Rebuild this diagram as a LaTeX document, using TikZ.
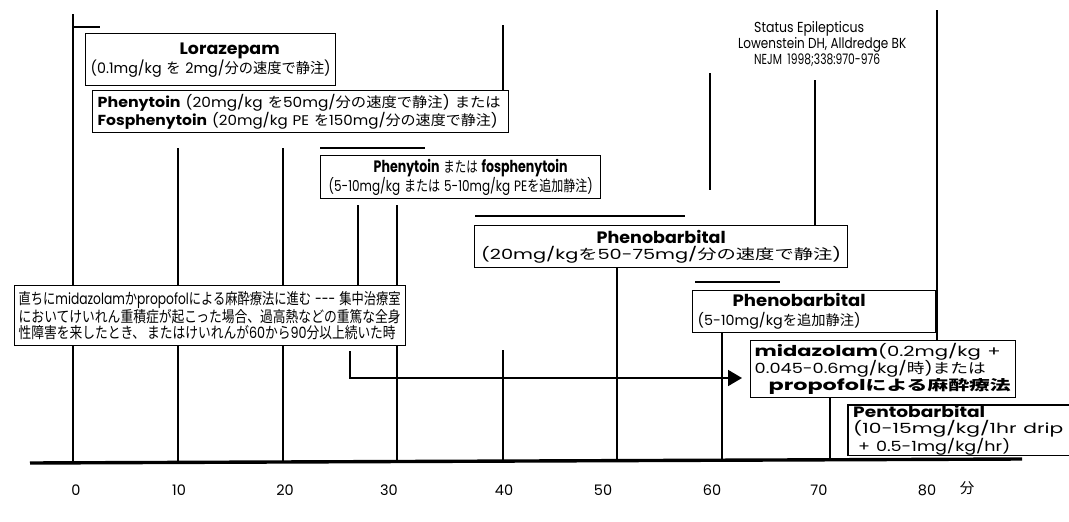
\documentclass[tikz,border=0pt]{standalone}
\usepackage{fontspec}
\usepackage{graphicx}
\setmainfont{Poppins}
\newfontfamily\jp{Noto Sans CJK JP}
\newcommand\J[1]{{\jp #1}}
\newcommand\fw[2]{\resizebox{#1pt}{\height}{#2}}
\newcommand\ttltxt{\fontsize{16.5}{17}\selectfont\bfseries}
\newcommand\phytxt{\fontsize{14.5}{16}\selectfont\bfseries}
\newcommand\midb{\fontsize{15}{16}\selectfont\bfseries}
\usetikzlibrary{arrows.meta}
\begin{document}
\begin{tikzpicture}[x=1pt,y=-1pt,
  tl/.style={line width=1.2pt},
  bar/.style={line width=2.6pt},
  boxline/.style={line width=1.4pt},
  box/.style={draw,boxline,fill=white,inner ysep=0pt,anchor=north west},
  lab/.style={font=\fontsize{14.5}{16}\selectfont,anchor=center}]
\useasboundingbox (0,0) rectangle (1069,522);
% time lines
\draw[tl] (73,14) -- (73,463);
\draw[tl] (73,27) -- (100,27);
\draw[tl] (178,148) -- (178,462);
\draw[tl] (283,148) -- (283,462);
\draw[line width=2.4pt] (358,205) -- (358,285);
\draw[tl] (397,205) -- (397,462);
\draw[tl] (503,25) -- (503,90);
\draw[tl] (503,350) -- (503,461);
\draw[tl] (617,267) -- (617,460);
\draw[tl] (710,73) -- (710,190);
\draw[tl] (722,332) -- (722,460);
\draw[tl] (815,80) -- (815,225);
\draw[tl] (830,397) -- (830,460);
\draw[tl] (937,10) -- (937,340);
% bars
\draw[bar] (320,148) -- (425,148);
\draw[bar] (475,216) -- (685,216);
\draw[bar] (695,282) -- (780,282);
% axis
\draw[line width=3.4pt] (30,463) -- (1022,459);
\foreach \x/\t in {76/0,179/10,285/20,389/30,504/40,603/50,712/60,819/70,927/80}
  \node[lab] (t\t) at (\x,490) {\t};
\node[lab] (tmin) at (967,488) {\J{分}};
% citation
\node[anchor=north west,align=left,inner sep=0pt,font=\fontsize{14.5}{16}\selectfont] (cite) at (738,21)
  {\hspace*{16pt}\fw{110}{Status Epilepticus}\\\fw{168}{Lowenstein DH, Alldredge BK}\\\hspace*{16pt}\fw{126}{NEJM\enspace 1998;338:970-976}};
% boxes
\node[box,minimum width=250,minimum height=52,inner xsep=0pt,text width=250,align=center,font=\fontsize{14.5}{19}\selectfont] (lor) at (85,33)
  {\hspace*{38pt}\fw{100}{\ttltxt Lorazepam}\\\fw{240}{(0.1mg/kg \J{を} 2mg/\J{分の速度で静注})}};
\node[box,minimum width=416,minimum height=42,inner xsep=5pt,text width=406,align=left,font=\fontsize{14}{18}\selectfont] (phy) at (92,90)
  {\fw{403}{{\phytxt Phenytoin} (20mg/kg \J{を}50mg/\J{分の速度で静注}) \J{または}}\\\fw{400}{{\phytxt Fosphenytoin} (20mg/kg PE \J{を}150mg/\J{分の速度で静注})}};
\node[box,minimum width=280,minimum height=43,inner xsep=0pt,text width=280,align=center,font=\fontsize{15}{18}\selectfont] (fos) at (320,155)
  {\hspace*{20pt}\fw{194}{{\ttltxt Phenytoin} \J{または} {\ttltxt fosphenytoin}}\\\fw{264}{(5-10mg/kg \J{または} 5-10mg/kg PE\J{を追加静注})}};
\node[box,minimum width=373,minimum height=42,inner xsep=0pt,text width=373,align=center,font=\fontsize{14}{16.5}\selectfont] (phb) at (474,225)
  {\fw{129}{\ttltxt Phenobarbital}\hspace*{90pt}\\\fw{360}{(20mg/kg\J{を}50-75mg/\J{分の速度で静注})}};
\node[box,minimum width=391,minimum height=60,inner xsep=4pt,text width=383,align=left,font=\fontsize{15.5}{16.5}\selectfont] (big) at (14,285)
  {\fw{382}{\J{直ちに}midazolam\J{か}propofol\J{による麻酔療法に進む} -{}-{}- \J{集中治療室}}\\
   \fw{382}{\J{においてけいれん重積症が起こった場合、過高熱などの重篤な全身}}\\
   \fw{377}{\J{性障害を来したとき、\,またはけいれんが}60\J{から}90\J{分以上続いた時}}};
\node[box,minimum width=243,minimum height=42,inner xsep=5pt,text width=233,align=left,font=\fontsize{14}{19}\selectfont] (phb2) at (692,290)
  {\hspace*{35pt}\fw{133}{\ttltxt Phenobarbital}\\\fw{163}{(5-10mg/kg\J{を追加静注})}};
\node[box,minimum width=265,minimum height=57,inner xsep=4pt,text width=257,align=left,font=\fontsize{14}{17}\selectfont] (mid) at (750,340)
  {\fw{246}{{\midb midazolam}(0.2mg/kg +}\\\fw{231}{0.045-0.6mg/kg/\J{時})\J{または}}\\\hspace*{14pt}\fw{242}{{\midb propofol}{\bfseries\fontsize{14}{16}\selectfont\J{による麻酔療法}}}};
\node[fill=white,inner xsep=5pt,inner ysep=0pt,anchor=north west,minimum width=221,minimum height=50,text width=211,align=left,font=\fontsize{14}{16.5}\selectfont] (pento) at (848,405)
  {\fw{132}{\midb Pentobarbital}\\\fw{210}{(10-15mg/kg/1hr drip}\\\hspace*{5pt}\fw{152}{+ 0.5-1mg/kg/hr)}};
\draw[boxline] (pento.north east) -- (pento.north west) -- (pento.south west) -- (pento.south east);
% arrow
\coordinate (as) at (350,345);
\coordinate (ae) at (750,378);
\draw[line width=1.8pt,-{Triangle[length=14pt,width=16pt]},shorten <=5pt,shorten >=8pt] (big.south -| as) |- (mid.west |- ae);
\end{tikzpicture}
\end{document}
